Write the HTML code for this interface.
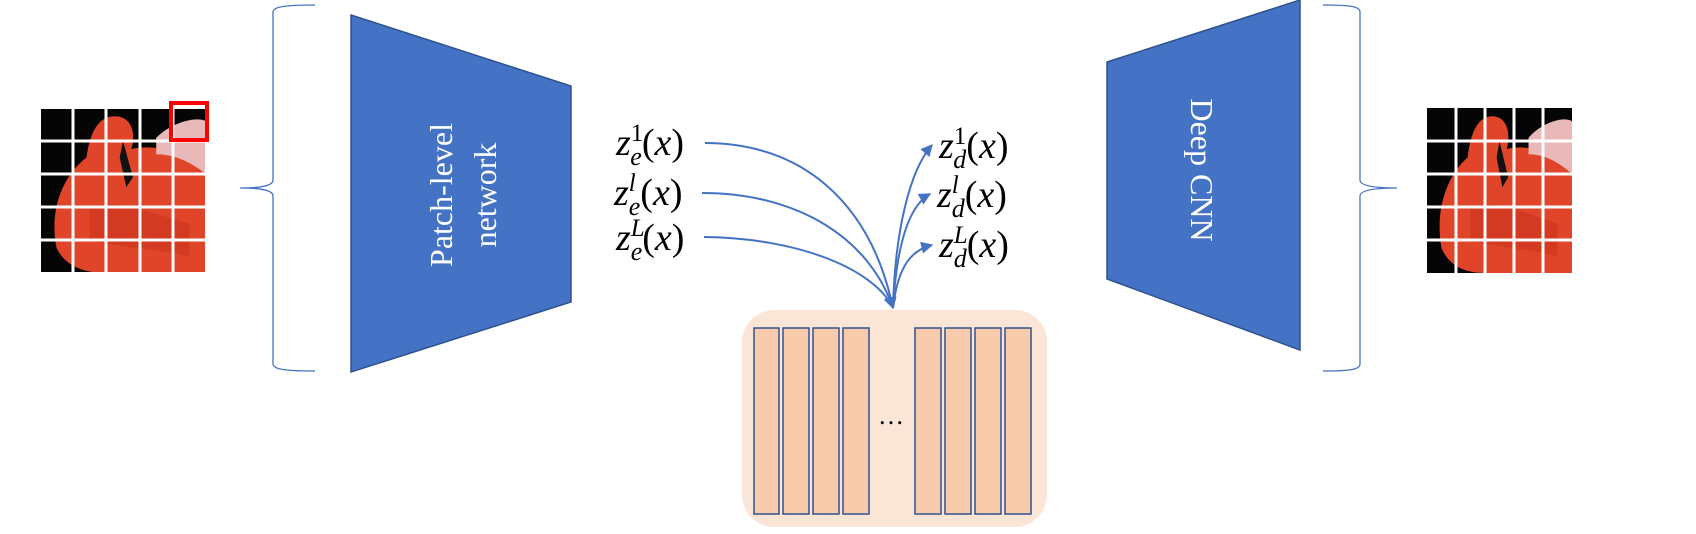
<!DOCTYPE html>
<html><head><meta charset="utf-8"><style>
html,body{margin:0;padding:0;background:#fff;}
svg{display:block}
.m{font-family:"Liberation Serif",serif;font-style:italic;fill:#000}
.n{font-style:normal}
</style></head><body>
<svg width="1696" height="534" viewBox="0 0 1696 534" xmlns="http://www.w3.org/2000/svg">
<defs>
<marker id="ah" viewBox="0 0 10 10" refX="9" refY="5" markerWidth="6" markerHeight="6" orient="auto"><path d="M0,0 L10,5 L0,10 z" fill="#4472C4"/></marker>
<clipPath id="gl"><rect x="40" y="108" width="166" height="165"/></clipPath>
<clipPath id="gr"><rect x="1427" y="108" width="145" height="165"/></clipPath>
<g id="bird">
<rect x="0" y="0" width="100" height="100" fill="#050505"/>
<path d="M10,85 C5,60 15,40 28,30 C30,15 35,5 45,5 C55,5 58,15 55,25 C65,22 85,25 100,35 L100,100 L40,100 C25,100 15,95 10,85 Z" fill="#e0452a"/>
<path d="M70,18 C80,8 95,5 100,8 L100,40 C90,32 80,28 70,28 Z" fill="#e9b8b8"/>
<path d="M50,20 L56,42 L52,48 L48,30 Z" fill="#111"/>
<path d="M30,60 C50,55 70,65 90,70 L90,90 C70,85 50,85 30,80 Z" fill="#c8331e" opacity="0.6"/>
</g>
</defs>
<g clip-path="url(#gl)"><use href="#bird" transform="translate(40,108) scale(1.66,1.65)"/></g>
<g stroke="#fff" stroke-width="3">
<line x1="73" y1="108" x2="73" y2="273"/><line x1="106" y1="108" x2="106" y2="273"/><line x1="140" y1="108" x2="140" y2="273"/><line x1="173" y1="108" x2="173" y2="273"/>
<line x1="40" y1="141" x2="206" y2="141"/><line x1="40" y1="174" x2="206" y2="174"/><line x1="40" y1="207" x2="206" y2="207"/><line x1="40" y1="240" x2="206" y2="240"/>
</g>
<rect x="40" y="108" width="166" height="165" fill="none" stroke="#fff" stroke-width="2"/>
<rect x="171" y="103" width="36" height="37" fill="none" stroke="#f00" stroke-width="4"/>
<g clip-path="url(#gr)"><use href="#bird" transform="translate(1427,108) scale(1.45,1.65)"/></g>
<g stroke="#fff" stroke-width="3">
<line x1="1456" y1="108" x2="1456" y2="273"/><line x1="1485" y1="108" x2="1485" y2="273"/><line x1="1514" y1="108" x2="1514" y2="273"/><line x1="1543" y1="108" x2="1543" y2="273"/>
<line x1="1427" y1="141" x2="1572" y2="141"/><line x1="1427" y1="174" x2="1572" y2="174"/><line x1="1427" y1="207" x2="1572" y2="207"/><line x1="1427" y1="240" x2="1572" y2="240"/>
</g>
<path d="M315,5 C290,5 273,6 273,12 L273,180 C273,186 260,188 240,188 C260,188 273,190 273,196 L273,364 C273,370 290,371 315,371" fill="none" stroke="#4472C4" stroke-width="1.3"/>
<path d="M1323,5 C1348,5 1360,6 1360,12 L1360,180 C1360,186 1375,188 1397,188 C1375,188 1360,190 1360,196 L1360,364 C1360,370 1348,371 1323,371" fill="none" stroke="#4472C4" stroke-width="1.3"/>
<polygon points="351,15 571,86 571,302 351,372" fill="#4472C4" stroke="#2F528F" stroke-width="1.5"/>
<polygon points="1107,62 1300,0 1300,350 1107,279" fill="#4472C4" stroke="#2F528F" stroke-width="1.5"/>
<text transform="translate(452,195) rotate(-90)" text-anchor="middle" font-family="Liberation Serif,serif" font-size="32" fill="#fff">Patch-level</text>
<text transform="translate(496,195) rotate(-90)" text-anchor="middle" font-family="Liberation Serif,serif" font-size="32" fill="#fff">network</text>
<text transform="translate(1191,170) rotate(90)" text-anchor="middle" font-family="Liberation Serif,serif" font-size="32" fill="#fff">Deep CNN</text>
<rect x="742" y="310" width="305" height="217" rx="32" fill="#FBE5D6"/>
<g fill="#F8CBAD" stroke="#2F528F" stroke-width="1.5">
<rect x="754" y="328" width="25" height="186"/><rect x="783" y="328" width="26" height="186"/><rect x="813" y="328" width="26" height="186"/><rect x="843" y="328" width="26" height="186"/>
<rect x="915" y="328" width="26" height="186"/><rect x="945" y="328" width="26" height="186"/><rect x="975" y="328" width="26" height="186"/><rect x="1005" y="328" width="26" height="186"/>
</g>
<text x="891" y="424" text-anchor="middle" font-family="Liberation Serif,serif" font-size="26">…</text>
<g fill="none" stroke="#4472C4" stroke-width="2">
<path d="M705,143 C800,143 870,200 893,308" marker-end="url(#ah)"/>
<path d="M702,193 C800,193 870,240 893,308" marker-end="url(#ah)"/>
<path d="M704,237 C800,238 875,270 893,308"/>
<path d="M893,308 C895,230 910,170 932,145" marker-end="url(#ah)"/>
<path d="M893,308 C897,240 910,205 930,194" marker-end="url(#ah)"/>
<path d="M893,308 C898,265 912,250 932,245" marker-end="url(#ah)"/>
</g>
<g class="m" font-size="38">
<text x="616" y="155">z<tspan font-size="25" dy="-14" class="n">1</tspan><tspan font-size="26" dx="-13" dy="24">e</tspan><tspan dy="-10" class="n">(</tspan>x<tspan class="n">)</tspan></text>
<text x="614" y="205">z<tspan font-size="25" dy="-14">l</tspan><tspan font-size="26" dx="-7" dy="24">e</tspan><tspan dy="-10" class="n">(</tspan>x<tspan class="n">)</tspan></text>
<text x="616" y="250">z<tspan font-size="25" dy="-14">L</tspan><tspan font-size="26" dx="-14" dy="24">e</tspan><tspan dy="-10" class="n">(</tspan>x<tspan class="n">)</tspan></text>
<text x="939" y="158">z<tspan font-size="25" dy="-14" class="n">1</tspan><tspan font-size="26" dx="-13" dy="24">d</tspan><tspan dy="-10" class="n">(</tspan>x<tspan class="n">)</tspan></text>
<text x="937" y="207">z<tspan font-size="25" dy="-14">l</tspan><tspan font-size="26" dx="-7" dy="24">d</tspan><tspan dy="-10" class="n">(</tspan>x<tspan class="n">)</tspan></text>
<text x="939" y="257">z<tspan font-size="25" dy="-14">L</tspan><tspan font-size="26" dx="-14" dy="24">d</tspan><tspan dy="-10" class="n">(</tspan>x<tspan class="n">)</tspan></text>
</g>
</svg>
</body></html>
